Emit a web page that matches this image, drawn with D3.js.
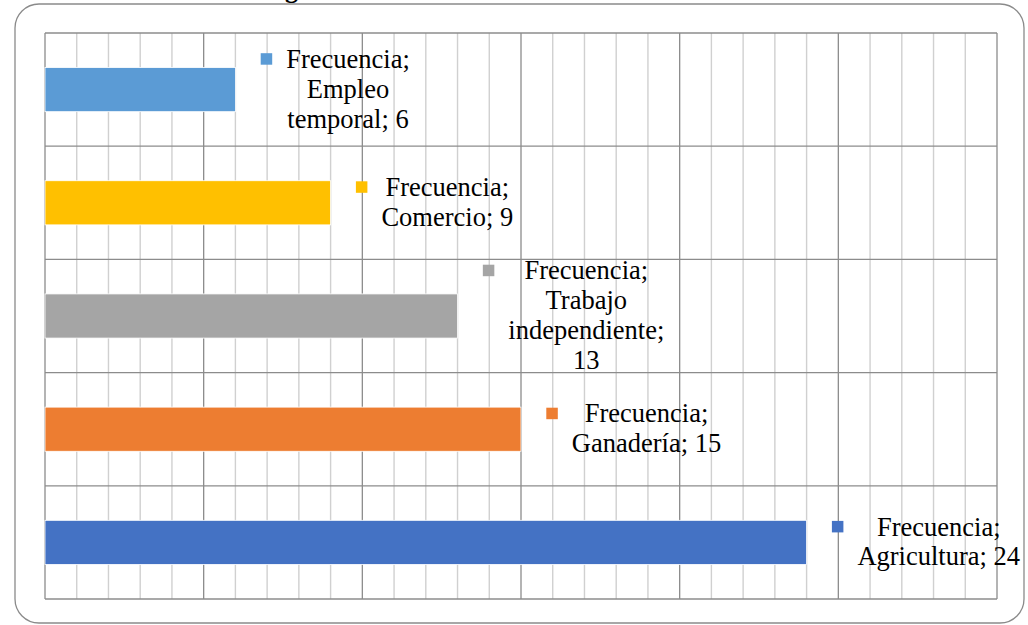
<!DOCTYPE html>
<html>
<head>
<meta charset="utf-8">
<script src="https://cdn.jsdelivr.net/npm/d3@7"></script>
<style>
  html, body { margin: 0; padding: 0; background: #fff; }
  svg { display: block; }
</style>
</head>
<body>
<svg id="chart" width="1028" height="625"></svg>
<script>
const seriesName = "Frecuencia";
const categories = ["Empleo temporal", "Comercio", "Trabajo independiente", "Ganadería", "Agricultura"];
const values = [6, 9, 13, 15, 24];
const colors = ["#5B9BD5", "#FFC000", "#A5A5A5", "#ED7D31", "#4472C4"];
const labelLines = [
  ["Frecuencia;", "Empleo", "temporal; 6"],
  ["Frecuencia;", "Comercio; 9"],
  ["Frecuencia;", "Trabajo", "independiente;", "13"],
  ["Frecuencia;", "Ganadería; 15"],
  ["Frecuencia;", "Agricultura; 24"]
];
const xMax = 30;

const svg = d3.select("#chart");
const W = 1028, H = 625;
const plot = { left: 45, right: 997, top: 33, bottom: 599 };

// outer rounded border
svg.append("rect")
  .attr("x", 15).attr("y", 4).attr("width", 1009).attr("height", 619)
  .attr("rx", 24).attr("ry", 24)
  .attr("fill", "#fff").attr("stroke", "#8a8a8a").attr("stroke-width", 1.3);

// cut-off title descender
svg.append("text")
  .attr("x", 285).attr("y", -2)
  .attr("font-family", "Liberation Serif, Times New Roman, serif")
  .attr("font-size", 26).attr("font-weight", "bold")
  .attr("fill", "#000").text("g");

const x = d3.scaleLinear().domain([0, xMax]).range([plot.left, plot.right]);
const y = d3.scaleBand().domain(categories).range([plot.top, plot.bottom])
  .paddingInner(0.61).paddingOuter(0.305);

const grid = svg.append("g");
const ticks = d3.range(0, xMax + 1, 1);
// minor vertical gridlines
grid.selectAll("line.minor").data(ticks.filter(t => t % 5 !== 0)).join("line")
  .attr("class", "minor")
  .attr("x1", d => x(d)).attr("x2", d => x(d))
  .attr("y1", plot.top).attr("y2", plot.bottom)
  .attr("stroke", "#d0d0d0").attr("stroke-width", 1.4);
// horizontal category boundaries
const step = y.step();
const bounds = d3.range(0, categories.length + 1).map(i => plot.top + i * step);
grid.selectAll("line.h").data(bounds).join("line")
  .attr("class", "h")
  .attr("x1", plot.left).attr("x2", plot.right)
  .attr("y1", d => d).attr("y2", d => d)
  .attr("stroke", "#8c8c8c").attr("stroke-width", 1.3);
// major vertical gridlines
grid.selectAll("line.major").data(ticks.filter(t => t % 5 === 0)).join("line")
  .attr("class", "major")
  .attr("x1", d => x(d)).attr("x2", d => x(d))
  .attr("y1", plot.top).attr("y2", plot.bottom)
  .attr("stroke", "#8c8c8c").attr("stroke-width", 1.3);

// bars
svg.append("g").selectAll("rect").data(categories).join("rect")
  .attr("x", x(0))
  .attr("y", d => y(d))
  .attr("width", (d, i) => x(values[i]) - x(0))
  .attr("height", y.bandwidth())
  .attr("fill", (d, i) => colors[i])
  .attr("stroke", "#ffffff").attr("stroke-width", 0.8);

// data labels
const lineH = 29.8;
const fontSize = 26.5;
const labels = svg.append("g")
  .attr("font-family", "Liberation Serif, Times New Roman, serif")
  .attr("font-size", fontSize).attr("fill", "#000");

categories.forEach((c, i) => {
  const lines = labelLines[i];
  const cy = y(c) + y.bandwidth() / 2;
  const blockTop = cy - lines.length * lineH / 2;
  const keyLeft = x(values[i]) + 25.3;
  const g = labels.append("g");
  const t = g.append("text").attr("text-anchor", "middle");
  lines.forEach((ln, k) => {
    t.append("tspan").attr("x", 0).attr("y", blockTop + 23 + k * lineH).text(ln);
  });
  let maxW = 0;
  t.selectAll("tspan").each(function() {
    maxW = Math.max(maxW, this.getComputedTextLength());
  });
  const cx = keyLeft + 25.5 + maxW / 2;
  t.selectAll("tspan").attr("x", cx);
  g.append("rect")
    .attr("x", keyLeft).attr("y", blockTop + 8.3)
    .attr("width", 11.5).attr("height", 11.5)
    .attr("fill", colors[i]);
});
</script>
</body>
</html>
